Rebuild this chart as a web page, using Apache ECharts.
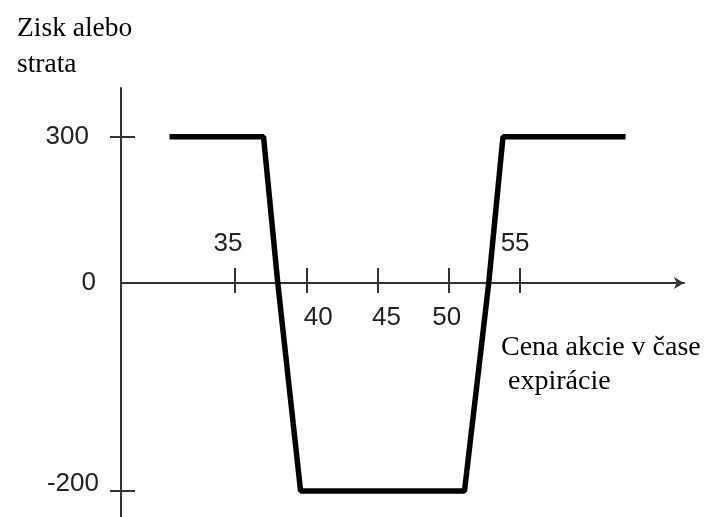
<!DOCTYPE html>
<html>
<head>
<meta charset="utf-8">
<script src="https://cdn.jsdelivr.net/npm/echarts@6/dist/echarts.min.js"></script>
<style>
  html, body { margin: 0; padding: 0; background: #fff; }
  #main { width: 707px; height: 517px; }
</style>
</head>
<body>
<div id="main"></div>
<script>
// payoff at expiration
const prices = [30.4, 37.0, 38.0, 39.6, 51.1, 52.8, 53.8, 62.4];
const profit = [300, 300, 0, -200, -200, 0, 300, 300];
const xTicks = [35, 40, 45, 50, 55];
const xLabelsAbove = [35, 55];
const xLabelsBelow = [40, 45, 50];
const yLabelsUpper = [300, 0];
const yLabelsLower = [-200];
const yTitle = 'Zisk alebo\nstrata';
const xTitle = 'Cena akcie v čase\n expirácie';

// upper grid holds y >= 0, lower grid y <= 0 (the picture uses two different scales)
const upperData = prices.map((p, i) => profit[i] >= 0 ? [p, profit[i]] : [p, '-']);
const lowerData = prices.map((p, i) => profit[i] <= 0 ? [p, profit[i]] : [p, '-']);

const sans = 'Liberation Sans';
const serif = 'Liberation Serif';
const axisColor = '#333';

// per-label nudges (padding) so the labels sit like in the drawing
const labelPad = {
  '35': [0, 14, 0, 0],
  '55': [0, 10, 0, 0],
  '40': [0, 0, 0, 24],
  '45': [0, 0, 0, 18],
  '50': [0, 4, 0, 0],
  '300': [0, 10, 0, 0],
  '0': [0, 3, 0, 0],
  '-200': [0, 0, 14, 0]
};
const rich = {};
Object.keys(labelPad).forEach(k => {
  rich['l' + k.replace('-', 'm')] = { padding: labelPad[k], fontFamily: sans, fontSize: 26, color: '#222' };
});
const fmt = v => '{l' + String(v).replace('-', 'm') + '|' + v + '}';

let myChart = echarts.init(document.getElementById('main'));
let option = {
  animation: false,
  title: [{
    text: yTitle,
    left: 12, top: 6,
    textStyle: { fontFamily: serif, fontSize: 27.5, fontWeight: 'normal', color: '#000', lineHeight: 36 }
  }, {
    text: xTitle,
    left: 496, top: 326,
    textStyle: { fontFamily: serif, fontSize: 28, fontWeight: 'normal', color: '#000', lineHeight: 34 }
  }],
  grid: [
    { left: 121, top: 88, width: 563, height: 195 },
    { left: 121, top: 283, width: 563, height: 236 }
  ],
  xAxis: [{
    gridIndex: 0, type: 'value', min: 27, max: 66.5, position: 'bottom',
    axisLine: { show: true, onZero: false, symbol: ['none', 'arrow'], symbolSize: [9, 10],
      lineStyle: { color: axisColor, width: 2 } },
    axisTick: { show: true, inside: true, length: 15, customValues: xTicks,
      lineStyle: { color: axisColor, width: 2 } },
    axisLabel: { show: true, inside: true, margin: 26, customValues: xLabelsAbove, formatter: fmt, rich: rich },
    splitLine: { show: false }
  }, {
    gridIndex: 1, type: 'value', min: 27, max: 66.5, position: 'top',
    axisLine: { show: false, onZero: false },
    axisTick: { show: true, inside: true, length: 10, customValues: xTicks,
      lineStyle: { color: axisColor, width: 2 } },
    axisLabel: { show: true, inside: true, margin: 22, customValues: xLabelsBelow, formatter: fmt, rich: rich },
    splitLine: { show: false }
  }],
  yAxis: [{
    gridIndex: 0, type: 'value', min: 0, max: 400, position: 'left',
    axisLine: { show: true, onZero: false, lineStyle: { color: axisColor, width: 2 } },
    axisTick: { show: true, inside: false, length: 11, customValues: [300],
      lineStyle: { color: axisColor, width: 2 } },
    axisLabel: { show: true, margin: 22, customValues: yLabelsUpper, formatter: fmt, rich: rich },
    splitLine: { show: false }
  }, {
    gridIndex: 0, type: 'value', min: 0, max: 400, position: 'left',
    axisLine: { show: false, onZero: false },
    axisTick: { show: true, inside: true, length: 14, customValues: [300],
      lineStyle: { color: axisColor, width: 2 } },
    axisLabel: { show: false },
    splitLine: { show: false }
  }, {
    gridIndex: 1, type: 'value', min: -225, max: 0, position: 'left',
    axisLine: { show: true, onZero: false, lineStyle: { color: axisColor, width: 2 } },
    axisTick: { show: true, inside: false, length: 11, customValues: [-200],
      lineStyle: { color: axisColor, width: 2 } },
    axisLabel: { show: true, margin: 22, customValues: yLabelsLower, formatter: fmt, rich: rich },
    splitLine: { show: false }
  }, {
    gridIndex: 1, type: 'value', min: -225, max: 0, position: 'left',
    axisLine: { show: false, onZero: false },
    axisTick: { show: true, inside: true, length: 14, customValues: [-200],
      lineStyle: { color: axisColor, width: 2 } },
    axisLabel: { show: false },
    splitLine: { show: false }
  }],
  series: [{
    type: 'line', xAxisIndex: 0, yAxisIndex: 0,
    data: upperData, showSymbol: false, connectNulls: false,
    lineStyle: { color: '#000', width: 5.5 }
  }, {
    type: 'line', xAxisIndex: 1, yAxisIndex: 2,
    data: lowerData, showSymbol: false, connectNulls: false,
    lineStyle: { color: '#000', width: 5.5 }
  }]
};
myChart.setOption(option);
</script>
</body>
</html>
